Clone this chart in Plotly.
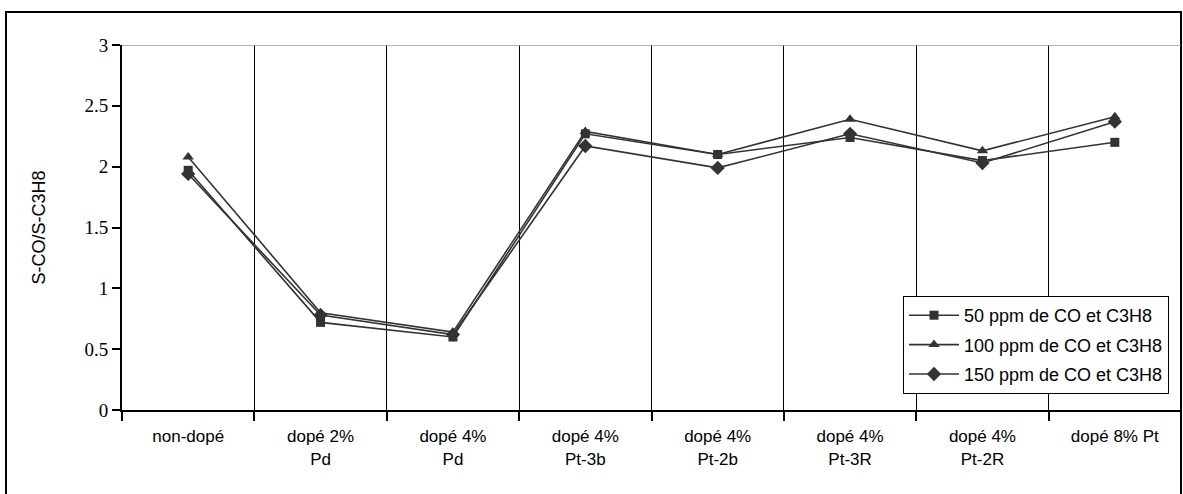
import plotly.graph_objects as go

categories = ["non-dopé", "dopé 2%<br>Pd", "dopé 4%<br>Pd", "dopé 4%<br>Pt-3b",
              "dopé 4%<br>Pt-2b", "dopé 4%<br>Pt-3R", "dopé 4%<br>Pt-2R", "dopé 8% Pt"]
s50 = [1.97, 0.72, 0.60, 2.27, 2.10, 2.24, 2.05, 2.20]
s100 = [2.08, 0.80, 0.64, 2.29, 2.10, 2.39, 2.13, 2.41]
s150 = [1.94, 0.78, 0.62, 2.17, 1.99, 2.27, 2.03, 2.37]
names = ["50 ppm de CO et C3H8", "100 ppm de CO et C3H8", "150 ppm de CO et C3H8"]
symbols = ["square", "triangle-up", "diamond"]
sizes = [9, 10, 11]

fig = go.Figure()
for i, (vals, nm) in enumerate(zip([s50, s100, s150], names)):
    fig.add_trace(go.Scatter(
        x=categories, y=vals, name=nm, mode="lines+markers",
        line=dict(color="#333333", width=1.6),
        marker=dict(symbol=symbols[i], size=sizes[i], color="#333333"),
        legendgroup=f"g{i}",
    ))

W, H = 1183, 494
l, r, t, b = 122, 2, 45, 84
pw, ph = W - l - r, H - t - b

def px(x):
    return (x - l) / pw

def py(y):
    return (H - b - y) / ph

sans = "Liberation Sans, Arial, sans-serif"
serif = "Liberation Serif, Times New Roman, serif"

fig.update_layout(
    template="none",
    width=W, height=H,
    margin=dict(l=l, r=r, t=t, b=b),
    paper_bgcolor="white", plot_bgcolor="white",
    showlegend=True,
    legend=dict(
        x=px(903), y=py(296), xanchor="left", yanchor="top",
        bordercolor="black", borderwidth=1, bgcolor="white",
        font=dict(family=sans, size=18, color="black"),
        tracegroupgap=3, itemwidth=50,
    ),
    xaxis=dict(
        type="category", tickson="boundaries", showgrid=True, gridcolor="black", gridwidth=1,
        ticks="outside", ticklen=9, tickcolor="black", tickwidth=2,
        showline=True, linecolor="black", linewidth=2,
        tickfont=dict(family=sans, size=17, color="black"),
        ticklabelstandoff=10,
        range=[-0.5, 7.5], zeroline=False,
    ),
    yaxis=dict(
        range=[0, 3], dtick=0.5, showgrid=False, zeroline=False,
        ticks="outside", ticklen=8, tickcolor="black", tickwidth=2,
        showline=True, linecolor="black", linewidth=2,
        tickfont=dict(family=serif, size=19, color="black"),
        title=dict(text="S-CO/S-C3H8", font=dict(family=sans, size=18, color="black"), standoff=34),
    ),
    shapes=[
        dict(type="line", xref="paper", yref="y", x0=0, x1=1, y0=3, y1=3,
             line=dict(color="#999999", width=1.5)),
        dict(type="rect", xref="paper", yref="paper", x0=px(6), x1=px(1181), y0=py(12), y1=py(500),
             line=dict(color="black", width=2), layer="below"),
    ],
)

fig.write_html("out.html", config={"displayModeBar": False, "staticPlot": True},
               post_script="document.body.style.margin='0';")
